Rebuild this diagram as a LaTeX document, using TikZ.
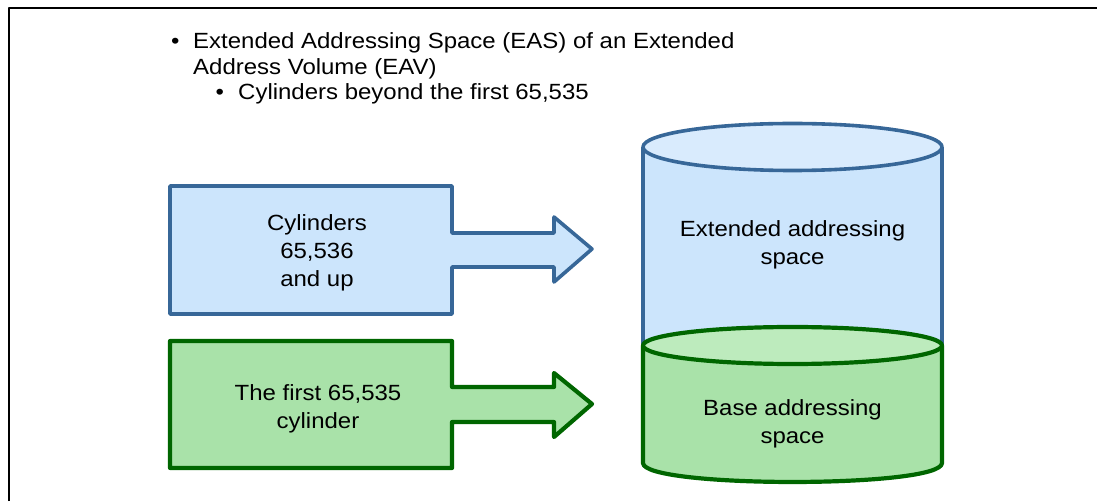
\documentclass[tikz,border=0pt]{standalone}
\usepackage{fontspec}
\setmainfont{Liberation Sans}[FakeStretch=1.09]
\begin{document}
\begin{tikzpicture}[x=1pt,y=1pt,
  line join=round,
  blueline/.style={draw=blueB, line width=3.6pt},
  greenline/.style={draw=greenB, line width=4.2pt},
  txt/.style={inner sep=0pt, font=\fontsize{22}{28}\selectfont},
  bullettxt/.style={inner sep=0pt, font=\fontsize{22}{25.5}\selectfont},
  label/.style={txt, align=center, anchor=base}
]
\definecolor{blueA}{HTML}{CCE5FC}
\definecolor{blueT}{HTML}{D9EBFD}
\definecolor{blueB}{HTML}{376798}
\definecolor{greenA}{HTML}{A9E2A9}
\definecolor{greenT}{HTML}{BDEBBD}
\definecolor{greenB}{HTML}{006600}

\useasboundingbox (0,0) rectangle (1100,501);

% frame edges
\draw[line width=1.2pt] (9,0) -- (9,493) -- (1097,493);

% bullet list (multi-line nodes are placed by their last baseline)
\node[bullettxt, anchor=base west] (b1) at (171,452) {\textbullet};
\node[bullettxt, anchor=base west, align=left] (l1) at (193,426.5)
  {Extended Addressing Space (EAS) of an Extended\\Address Volume (EAV)};
\node[bullettxt, anchor=base west] (b2) at (215.5,401) {\textbullet};
\node[bullettxt, anchor=base west] (l2) at (238,401) {Cylinders beyond the first 65,535};

% block arrow: cylinders 65,536 and up
\path[blueline, fill=blueA]
  (170,315) -- (452,315) -- (452,268) -- (554,268) -- (554,284) -- (592,252)
  -- (554,219) -- (554,234) -- (452,234) -- (452,187) -- (170,187) -- cycle;
\node[label] (t1) at (317,214) {Cylinders\\65,536\\and up};

% block arrow: first 65,535 cylinders
\path[greenline, fill=greenA]
  (170,160) -- (452,160) -- (452,114) -- (554,114) -- (554,128) -- (592,97)
  -- (554,64) -- (554,79) -- (452,79) -- (452,33) -- (170,33) -- cycle;
\node[label] (t2) at (318,73) {The first 65,535\\cylinder};

% cylinder, extended part
\path[fill=blueA] (643,354) rectangle (942,155.5);
\draw[blueline] (643,354) -- (643,155.5) (942,354) -- (942,155.5);
\draw[blueline, fill=blueT] (792.5,354) ellipse [x radius=149.5, y radius=23.5];

% cylinder, base part
\path[greenline, fill=greenA]
  (643,155.5) -- (643,38) .. controls (643,12.7) and (942,12.7) .. (942,38)
  -- (942,155.5);
\draw[greenline, fill=greenT] (792.5,155.5) ellipse [x radius=149.5, y radius=18.5];

\node[label] (t3) at (792.5,236) {Extended addressing\\space};
\node[label] (t4) at (792.5,58) {Base addressing\\space};
\end{tikzpicture}
\end{document}
